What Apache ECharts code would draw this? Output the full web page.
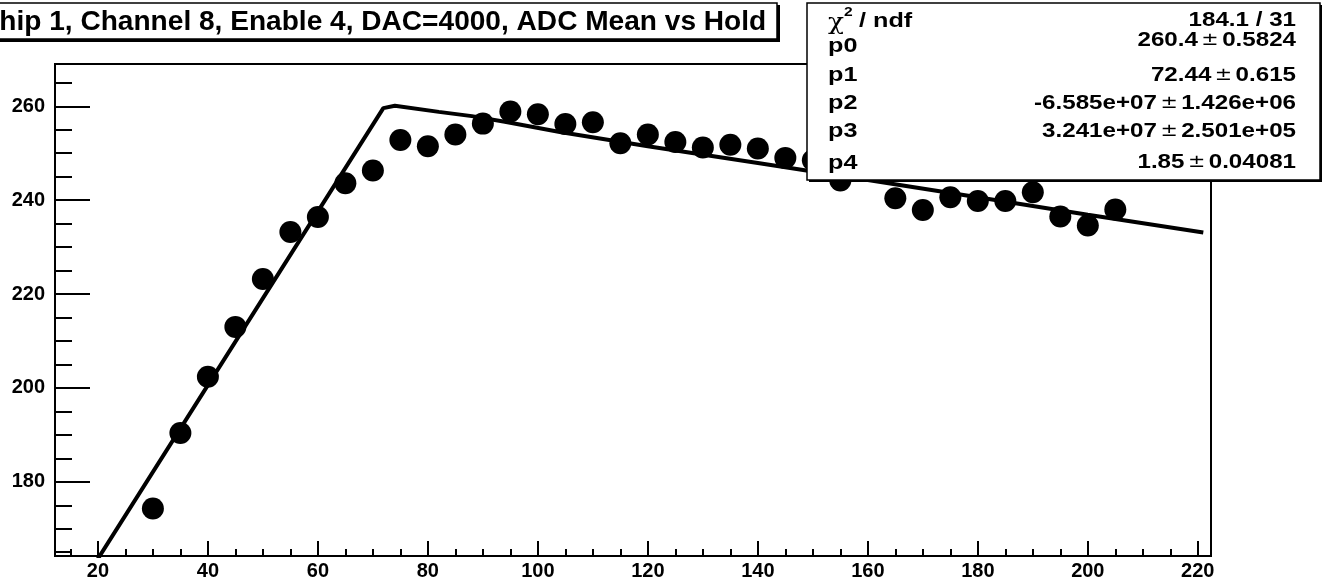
<!DOCTYPE html>
<html><head><meta charset="utf-8">
<script src="https://cdn.jsdelivr.net/npm/echarts@6/dist/echarts.min.js"></script>
<style>html,body{margin:0;padding:0;background:#fff;}#c{width:1330px;height:583px;}</style>
</head><body><div id="c"></div>
<script>
// ---- data ----
const holdValues = [30,35,40,45,50,55,60,65,70,75,80,85,90,95,100,105,110,115,120,125,130,135,140,145,150,155,160,165,170,175,180,185,190,195,200,205];
const adcMeans   = [174.3,190.4,202.4,213.0,223.2,233.2,236.4,243.6,246.3,252.8,251.5,254.0,256.3,258.9,258.3,256.2,256.6,252.1,254.0,252.4,251.2,251.8,251.0,249.0,248.5,244.2,247.5,240.4,237.9,240.6,239.8,239.8,241.7,236.5,234.6,238.0];
const fitX = [20,71.9,74,82,88,94,104,120,140,160,180,200,221];
const fitY = [163.6,259.6,260.1,258.8,257.9,256.7,254.5,251.5,247.9,244.3,240.6,236.9,233.1];
const xMajorTicks = [20,40,60,80,100,120,140,160,180,200,220];
const xMinorTicks = [15,25,30,35,45,50,55,65,70,75,85,90,95,105,110,115,125,130,135,145,150,155,165,170,175,185,190,195,205,210,215];
const yMajorTicks = [180,200,220,240,260];
const yMinorTicks = [165,170,175,185,190,195,205,210,215,225,230,235,245,250,255,265];
const titleText = 'Chip 1, Channel 8, Enable 4, DAC=4000, ADC Mean vs Hold';
const chi2Label = '/ ndf';
const chi2Value = '184.1 / 31';
const parNames  = ['p0','p1','p2','p3','p4'];
const parValues = ['260.4','72.44','-6.585e+07','3.241e+07','1.85'];
const parErrors = ['0.5824','0.615','1.426e+06','2.501e+05','0.04081'];

// ---- chart ----
const FONT = '"Liberation Sans", Arial, Helvetica, sans-serif';
const X_MIN = 12.2, X_MAX = 222.4, Y_MIN = 164.2, Y_MAX = 269.0;
const black = '#000';

const chart = echarts.init(document.getElementById('c'), null, {renderer: 'canvas'});

function txt(text, x, y, size, align, sx, extra) {
  return {
    type: 'text', z: 200, x: x, y: y, scaleX: sx || 1, scaleY: 1,
    style: Object.assign({
      text: text, x: 0, y: 0, fill: black,
      fontFamily: FONT, fontSize: size, fontWeight: 'bold',
      align: align, textAlign: align, verticalAlign: 'middle', textVerticalAlign: 'middle'
    }, extra || {})
  };
}

const graphics = [];
// title box
graphics.push({type: 'rect', z: 150, shape: {x: -5, y: 5, width: 785, height: 37}, style: {fill: black}});
graphics.push({type: 'rect', z: 151, shape: {x: -5, y: 3, width: 782, height: 36}, style: {fill: '#fff', stroke: black, lineWidth: 1.5}});
graphics.push(txt(titleText, -21, 23, 27, 'left', 1.04));

// stats box
const bx = 807, by = 3, bw = 513, bh = 177;
graphics.push({type: 'rect', z: 150, shape: {x: bx + 2, y: by + 2, width: bw, height: bh}, style: {fill: black}});
graphics.push({type: 'rect', z: 151, shape: {x: bx, y: by, width: bw, height: bh}, style: {fill: '#fff', stroke: black, lineWidth: 1.5}});
const leftX = 828, rightX = 1296;
const FS = 21, SXL = 1.2, SXR = 1.15;
const rowY = [20, 40, 75.5, 103.5, 131.5, 162.5];
const nameY = [21, 46.5, 75, 103, 131.5, 163];
// chi2 / ndf
graphics.push(txt('\u03C7', leftX, nameY[0] + 2, 22, 'left', SXL, {fontFamily: '"DejaVu Serif", serif', fontWeight: 'normal'}));
graphics.push(txt('2', leftX + 16, nameY[0] - 9, 13, 'left', SXL));
graphics.push(txt(chi2Label, leftX + 31, nameY[0], FS, 'left', SXL));
graphics.push(txt(chi2Value, rightX, rowY[0], FS, 'right', SXR));
for (let i = 0; i < parNames.length; i++) {
  graphics.push(txt(parNames[i], leftX, nameY[i + 1], FS, 'left', SXL));
  graphics.push(txt('{v|' + parValues[i] + '}{pm|\u00B1}{v|' + parErrors[i] + '}', rightX, rowY[i + 1], FS, 'right', SXR, {
    rich: {
      v: {fontFamily: FONT, fontSize: FS, fontWeight: 'bold', fill: black},
      pm: {fontFamily: '"DejaVu Sans", sans-serif', fontSize: 18, fontWeight: 'normal', fill: black, padding: [0, 3, 0, 3]}
    }
  }));
}

const axisCommon = {type: 'value', splitLine: {show: false}};

chart.setOption({
  animation: false,
  backgroundColor: '#fff',
  grid: {left: 55, top: 64, width: 1156, height: 492, show: true, borderColor: black, borderWidth: 2, backgroundColor: 'transparent', containLabel: false},
  xAxis: [
    Object.assign({}, axisCommon, {
      min: X_MIN, max: X_MAX, position: 'bottom',
      axisLine: {show: true, onZero: false, lineStyle: {color: black, width: 2}},
      axisTick: {show: true, inside: true, length: 15, customValues: xMajorTicks, lineStyle: {color: black, width: 2}},
      axisLabel: {show: true, customValues: xMajorTicks, color: black, fontFamily: FONT, fontWeight: 'bold', fontSize: 20, margin: 5}
    }),
    Object.assign({}, axisCommon, {
      min: X_MIN, max: X_MAX, position: 'bottom', offset: 0,
      axisLine: {show: false, onZero: false},
      axisTick: {show: true, inside: true, length: 7, customValues: xMinorTicks, lineStyle: {color: black, width: 2}},
      axisLabel: {show: false}
    })
  ],
  yAxis: [
    Object.assign({}, axisCommon, {
      min: Y_MIN, max: Y_MAX, position: 'left',
      axisLine: {show: true, onZero: false, lineStyle: {color: black, width: 2}},
      axisTick: {show: true, inside: true, length: 35, customValues: yMajorTicks, lineStyle: {color: black, width: 2}},
      axisLabel: {show: true, customValues: yMajorTicks, color: black, fontFamily: FONT, fontWeight: 'bold', fontSize: 20, margin: 10}
    }),
    Object.assign({}, axisCommon, {
      min: Y_MIN, max: Y_MAX, position: 'left', offset: 0,
      axisLine: {show: false, onZero: false},
      axisTick: {show: true, inside: true, length: 17, customValues: yMinorTicks, lineStyle: {color: black, width: 2}},
      axisLabel: {show: false}
    })
  ],
  series: [
    {
      type: 'line', xAxisIndex: 0, yAxisIndex: 0, clip: true,
      data: fitX.map((x, i) => [x, fitY[i]]),
      symbol: 'none', smooth: false,
      lineStyle: {color: black, width: 4}, z: 3
    },
    {
      type: 'scatter', xAxisIndex: 0, yAxisIndex: 0, clip: true,
      data: holdValues.map((x, i) => [x, adcMeans[i]]),
      symbol: 'circle', symbolSize: 22,
      itemStyle: {color: black, opacity: 1}, z: 4
    }
  ],
  graphic: graphics
});
</script>
</body></html>
